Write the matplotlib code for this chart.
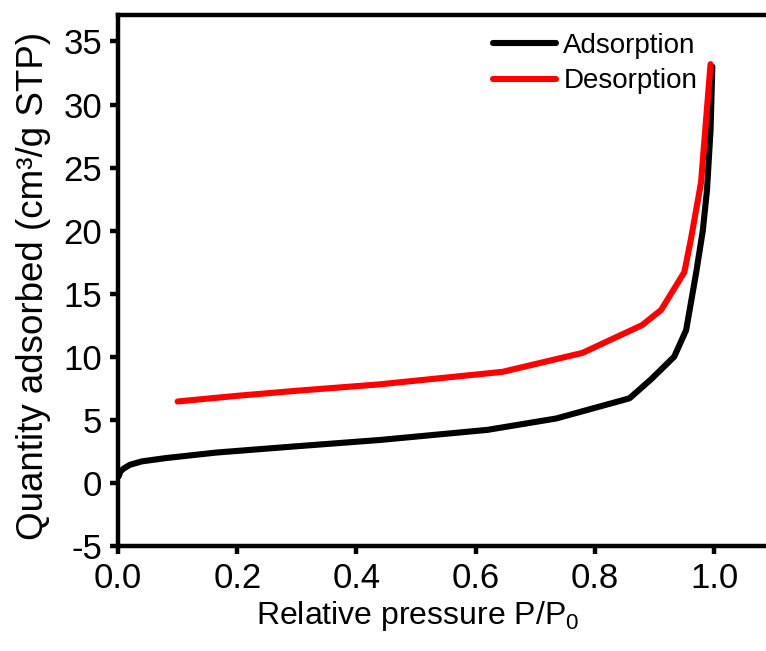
import matplotlib
matplotlib.use("Agg")
import matplotlib.pyplot as plt

plt.rcParams["font.family"] = ["Liberation Sans", "DejaVu Sans"]
plt.rcParams["mathtext.fontset"] = "custom"
plt.rcParams["mathtext.rm"] = "Liberation Sans"
plt.rcParams["mathtext.it"] = "Liberation Sans"
plt.rcParams["axes.unicode_minus"] = False

# Isotherm data
ads_x = [0.001, 0.004, 0.01, 0.02, 0.04, 0.08, 0.165, 0.3, 0.44, 0.62, 0.735,
         0.858, 0.894, 0.933, 0.953, 0.970, 0.981, 0.988, 0.994, 0.997]
ads_y = [0.5, 0.9, 1.15, 1.43, 1.7, 1.96, 2.4, 2.9, 3.4, 4.2, 5.1,
         6.7, 8.2, 10.0, 12.1, 16.7, 20.0, 23.2, 28.0, 33.0]

des_x = [0.1, 0.2, 0.3, 0.437, 0.645, 0.779, 0.879, 0.911, 0.950, 0.961, 0.978, 0.994]
des_y = [6.45, 6.9, 7.3, 7.8, 8.8, 10.3, 12.5, 13.7, 16.7, 19.3, 23.8, 33.2]

xticks = [0.0, 0.2, 0.4, 0.6, 0.8, 1.0]
yticks = [-5, 0, 5, 10, 15, 20, 25, 30, 35]

fig = plt.figure(figsize=(7.66, 6.51), dpi=100)
ax = fig.add_axes([0.1541, 0.1615, 0.856, 0.8155])

ax.plot(ads_x, ads_y, color="black", lw=4.4, label="Adsorption", solid_capstyle="round")
ax.plot(des_x, des_y, color="#ff0000", lw=4.4, label="Desorption", solid_capstyle="round")

ax.set_xlim(0, 1.1)
ax.set_ylim(-5, 37.1)
ax.set_xticks(xticks)
ax.set_yticks(yticks)
ax.set_xticklabels([f"{v:.1f}" for v in xticks])

for s in ax.spines.values():
    s.set_linewidth(3.2)
ax.tick_params(direction="out", length=5.5, width=3.2, labelsize=25)
ax.tick_params(axis="x", pad=6)
ax.tick_params(axis="y", pad=6)

ax.set_xlabel(r"Relative pressure P/P$\mathregular{_0}$", fontsize=23)
ax.set_ylabel("Quantity adsorbed (cm\u00b3/g STP)", fontsize=26.5)
ax.xaxis.set_label_coords(0.457, -0.1)
ax.yaxis.set_label_coords(-0.102, 0.49)

ax.legend(loc="upper left", bbox_to_anchor=(0.533, 1.013), frameon=False, fontsize=20,
          handlelength=2.3, handletextpad=0.25, labelspacing=0.33)

fig.savefig("out.png", dpi=100)
